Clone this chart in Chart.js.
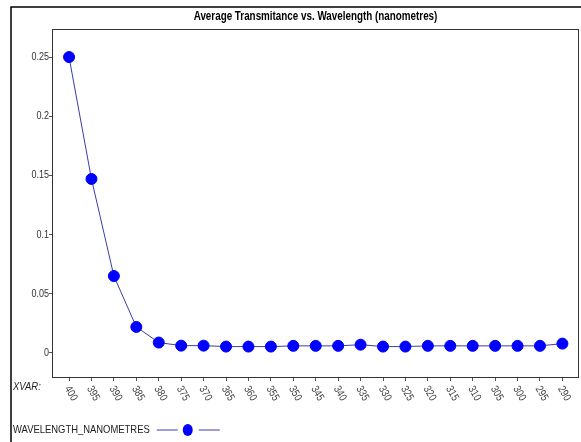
<!DOCTYPE html>
<html>
<head>
<meta charset="utf-8">
<script src="https://cdn.jsdelivr.net/npm/chart.js@4/dist/chart.umd.min.js"></script>
<style>
  html, body { margin: 0; padding: 0; background: #fff; overflow: hidden; }
  #wrap { position: relative; width: 581px; height: 442px; }
  canvas { display: block; }
</style>
</head>
<body>
<div id="wrap"><canvas id="chart"></canvas></div>
<script>
// Datos del gráfico.
const WAVELENGTHS = [400, 395, 390, 385, 380, 375, 370, 365, 360, 355, 350,
                     345, 340, 335, 330, 325, 320, 315, 310, 305, 300, 295, 290];
const TRANSMITANCE = [0.250, 0.147, 0.065, 0.022, 0.0088, 0.0062, 0.0062, 0.0054, 0.0054, 0.0054, 0.0060,
                      0.0060, 0.0060, 0.0070, 0.0054, 0.0054, 0.0060, 0.0060, 0.0060, 0.0060, 0.0060, 0.0060, 0.0079];
const Y_TICKS = [0, 0.05, 0.1, 0.15, 0.2, 0.25];
const Y_LABELS = ['0', '0.05', '0.1', '0.15', '0.2', '0.25'];
const TITLE = 'Average Transmitance vs. Wavelength (nanometres)';
const SERIES_NAME = 'WAVELENGTH_NANOMETRES';
const AXIS_NAME = 'XVAR:';

const FONT = "'Liberation Sans', Arial, sans-serif";
const SQUEEZE = 0.82; // simula Arial Narrow
const LINE_COLOR = '#3c3ca8';
const POINT_COLOR = '#0000ff';

// Texto comprimido horizontalmente.
const narrowText = (ctx, text, x, y, align, angle = 0) => {
    ctx.save();
    ctx.translate(x, y);
    ctx.rotate(angle);
    ctx.scale(SQUEEZE, 1);
    ctx.textAlign = align;
    ctx.fillText(text, 0, 0);
    ctx.restore();
};

// Plugin para dibujar marco, título, etiquetas y leyenda.
const decorations = {
    id: 'decorations',
    beforeDraw(chart) {
        const ctx = chart.ctx;
        ctx.save();
        ctx.fillStyle = '#fff';
        ctx.fillRect(0, 0, chart.width, chart.height);
        // Marco exterior.
        ctx.strokeStyle = '#000';
        ctx.lineWidth = 1.5;
        ctx.beginPath();
        ctx.moveTo(11, chart.height);
        ctx.lineTo(11, 7);
        ctx.lineTo(chart.width, 7);
        ctx.stroke();
        ctx.restore();
    },
    afterDraw(chart) {
        const ctx = chart.ctx;
        const area = chart.chartArea;
        const x = chart.scales.x;
        const y = chart.scales.y;
        ctx.save();
        ctx.textBaseline = 'middle';
        // Borde del área del gráfico.
        ctx.strokeStyle = '#333';
        ctx.lineWidth = 1;
        ctx.strokeRect(area.left + 0.5, area.top + 0.5, area.right - area.left - 1, area.bottom - area.top);
        // Título.
        ctx.fillStyle = '#000';
        ctx.font = 'bold 12px ' + FONT;
        narrowText(ctx, TITLE, (area.left + area.right) / 2, 17, 'center');
        // Etiquetas del eje y.
        ctx.fillStyle = '#333';
        ctx.font = '11px ' + FONT;
        Y_TICKS.forEach((v, i) => {
            narrowText(ctx, Y_LABELS[i], area.left - 3, y.getPixelForValue(v), 'right');
        });
        // Etiquetas del eje x giradas.
        ctx.fillStyle = '#444';
        WAVELENGTHS.forEach(v => {
            narrowText(ctx, String(v), x.getPixelForValue(v) - 2, area.bottom + 10, 'left', Math.PI / 3);
        });
        // Nombre del eje.
        ctx.fillStyle = '#222';
        ctx.font = 'italic 11.5px ' + FONT;
        narrowText(ctx, AXIS_NAME, 13, 387, 'left');
        // Leyenda.
        ctx.font = '11.5px ' + FONT;
        narrowText(ctx, SERIES_NAME, 13, 430, 'left');
        const w = ctx.measureText(SERIES_NAME).width * SQUEEZE;
        const lx = 13 + w + 7;
        ctx.strokeStyle = LINE_COLOR;
        ctx.beginPath();
        ctx.moveTo(lx, 430);
        ctx.lineTo(lx + 21, 430);
        ctx.moveTo(lx + 42, 430);
        ctx.lineTo(lx + 63, 430);
        ctx.stroke();
        ctx.fillStyle = POINT_COLOR;
        ctx.beginPath();
        ctx.ellipse(lx + 31, 430, 5, 6, 0, 0, Math.PI * 2);
        ctx.fill();
        ctx.restore();
    }
};

const context = document.getElementById('chart').getContext('2d');
const chart = new Chart(context, {
    type: 'line',
    data: {
        datasets: [{
            label: SERIES_NAME,
            data: WAVELENGTHS.map((w, i) => ({ x: w, y: TRANSMITANCE[i] })),
            borderColor: LINE_COLOR,
            borderWidth: 1,
            pointBackgroundColor: POINT_COLOR,
            pointBorderColor: POINT_COLOR,
            pointRadius: 5.5,
            tension: 0
        }]
    },
    options: {
        responsive: true,
        maintainAspectRatio: false,
        animation: false,
        layout: { autoPadding: false, padding: { top: 29, right: 2, left: 0, bottom: 0 } },
        plugins: {
            legend: { display: false },
            title: { display: false },
            tooltip: { enabled: false }
        },
        scales: {
            x: {
                type: 'linear',
                reverse: true,
                min: 286.3,
                max: 403.8,
                afterBuildTicks: (scale) => { scale.ticks = WAVELENGTHS.map(v => ({ value: v })); },
                afterFit: (scale) => { scale.height = 65; },
                ticks: { display: false },
                grid: { drawOnChartArea: false, tickLength: 4, color: '#555' },
                border: { display: false }
            },
            y: {
                min: -0.0203,
                max: 0.2737,
                afterBuildTicks: (scale) => { scale.ticks = Y_TICKS.map(v => ({ value: v })); },
                afterFit: (scale) => { scale.width = 52; },
                ticks: { display: false },
                grid: { drawOnChartArea: false, tickLength: 3, color: '#555' },
                border: { display: false }
            }
        }
    },
    plugins: [decorations]
});
</script>
</body>
</html>
